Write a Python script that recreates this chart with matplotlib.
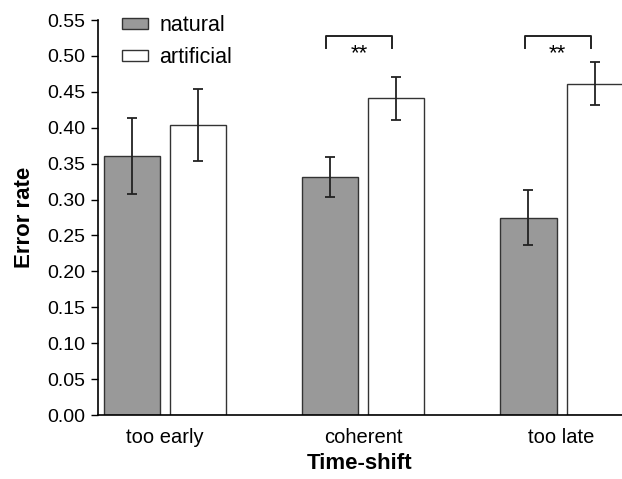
import numpy as np
import matplotlib
matplotlib.use("Agg")
from matplotlib import pyplot as plt

plt.rcParams['font.family'] = ['Liberation Sans', 'DejaVu Sans']

# donnees
categories = ["too early", "coherent", "too late"]
natural = [0.361, 0.331, 0.275]
natural_err = [0.053, 0.028, 0.038]
artificial = [0.404, 0.441, 0.461]
artificial_err = [0.050, 0.030, 0.030]
significatif = [False, True, True]
yticks = [0.00, 0.05, 0.10, 0.15, 0.20, 0.25, 0.30, 0.35, 0.40, 0.45, 0.50, 0.55]

x = np.arange(len(categories))
largeur = 0.283
decalage = 0.1667

fig = plt.figure(figsize=(6.22, 4.79), dpi=100)
ax = fig.add_axes([0.1576, 0.1336, 0.8424, 0.8246])

err_style = dict(ecolor="#222222", elinewidth=1.3, capsize=3.5, capthick=1.3)
ax.bar(x - decalage, natural, largeur, color="#999999", edgecolor="#333333",
       linewidth=1.0, yerr=natural_err, error_kw=err_style, label="natural", zorder=2)
ax.bar(x + decalage, artificial, largeur, color="white", edgecolor="#333333",
       linewidth=1.0, yerr=artificial_err, error_kw=err_style, label="artificial", zorder=2)

# crochets de significativite
for i, sig in enumerate(significatif):
    if sig:
        x1, x2 = x[i] - decalage - 0.02, x[i] + decalage - 0.02
        ax.plot([x1, x1, x2, x2], [0.5116, 0.528, 0.528, 0.5116],
                color="#222222", lw=1.4, clip_on=False)
        ax.text((x1 + x2) / 2, 0.503, "**", ha="center", va="center", fontsize=16)

ax.set_xlim(-0.338, 2.305)
ax.set_ylim(0, 0.55)
ax.set_yticks(yticks)
ax.set_yticklabels([f"{v:.2f}" for v in yticks])
ax.set_xticks(x)
ax.set_xticklabels(categories)
ax.tick_params(axis="y", direction="out", length=5, width=1, labelsize=14, pad=4)
ax.tick_params(axis="x", length=0, labelsize=14.5, pad=9)
ax.spines["top"].set_visible(False)
ax.spines["right"].set_visible(False)
ax.spines["left"].set_linewidth(1.2)
ax.spines["bottom"].set_linewidth(1.2)

ax.set_ylabel("Error rate", fontsize=16, fontweight="bold", labelpad=9)
ax.set_xlabel("Time-shift", fontsize=16, fontweight="bold", labelpad=5)

ax.legend(loc="upper left", bbox_to_anchor=(0.175, 0.995), bbox_transform=fig.transFigure,
          frameon=False, fontsize=15.5, handlelength=1.2, handleheight=0.45,
          handletextpad=0.55, labelspacing=0.5, borderaxespad=0.2)

fig.savefig("out.png", dpi=100)
